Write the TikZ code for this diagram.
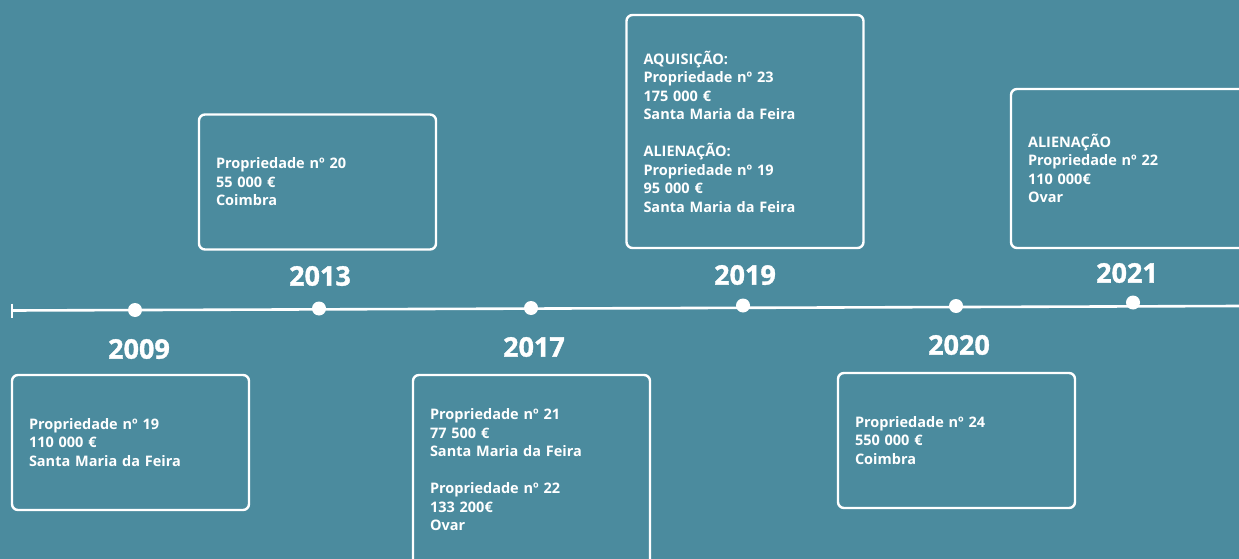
\documentclass[tikz,border=0pt]{standalone}
\usepackage{fontspec}
\setmainfont{Open Sans}
\newfontfamily\caixafont{Open Sans}
\newfontfamily\anofont[BoldFeatures={FakeBold=1.2}]{Open Sans}
\definecolor{fundo}{RGB}{75,139,158}

\tikzset{
	caixa/.style={draw=white, line width=2.4pt, rounded corners=6pt, text=white,
		align=left, inner xsep=17pt, inner ysep=0pt, text width=203pt, minimum height=135pt,
		font=\caixafont\bfseries\fontsize{14.5}{18.5}\selectfont},
	ano/.style={text=white, inner sep=0pt, font=\anofont\bfseries\fontsize{27}{30}\selectfont},
	ponto/.style={circle, fill=white, inner sep=0pt, minimum size=14pt}
}

\begin{document}
\begin{tikzpicture}[x=1pt,y=-1pt]
			\fill[fundo] (0,0) rectangle (1239,559);
			\useasboundingbox (0,0) rectangle (1239,559);
			\clip (0,0) rectangle (1239,559);
			% linha do tempo
			\coordinate (inicio) at (12,310.5);
			\coordinate (fim) at (1239,306);
			\draw[white, line width=2.6pt] (inicio) -- (fim);
			\draw[white, line width=2pt] ([yshift=7pt]inicio) -- ([yshift=-7pt]inicio);
			\node[ponto] (p2009) at (135,310) {};
			\node[ponto] (p2013) at (319,308.5) {};
			\node[ponto] (p2017) at (531,308) {};
			\node[ponto] (p2019) at (743,305.5) {};
			\node[ponto] (p2020) at (956,306) {};
			\node[ponto] (p2021) at (1133,302.5) {};
			% anos
			\node[ano] (a2009) at (139,349) {2009};
			\node[ano] (a2013) at (320,276) {2013};
			\node[ano] (a2017) at (534,347) {2017};
			\node[ano] (a2019) at (745,275) {2019};
			\node[ano] (a2020) at (959,345) {2020};
			\node[ano] (a2021) at (1127,273) {2021};
			% caixas
			\node[caixa] (c2009) at (130.5,442.5) {Propriedade nº 19\\110 000 €\\Santa Maria da Feira};
			\node[caixa] (c2013) at (317.5,182) {Propriedade nº 20\\55 000 €\\Coimbra};
			\node[caixa, minimum height=190pt] (c2017) at (531.5,470) {Propriedade nº 21\\77 500 €\\Santa Maria da Feira\\[18.5pt]Propriedade nº 22\\133 200€\\Ovar};
			\node[caixa, minimum height=233pt] (c2019) at (745,131.5) {AQUISIÇÃO:\\Propriedade nº 23\\175 000 €\\Santa Maria da Feira\\[18.5pt]ALIENAÇÃO:\\Propriedade nº 19\\95 000 €\\Santa Maria da Feira};
			\node[caixa] (c2020) at (956.5,440.5) {Propriedade nº 24\\550 000 €\\Coimbra};
			\node[caixa, minimum height=159pt] (c2021) at (1129.5,168.5) {ALIENAÇÃO\\Propriedade nº 22\\110 000€\\Ovar};
		\end{tikzpicture}
\end{document}
